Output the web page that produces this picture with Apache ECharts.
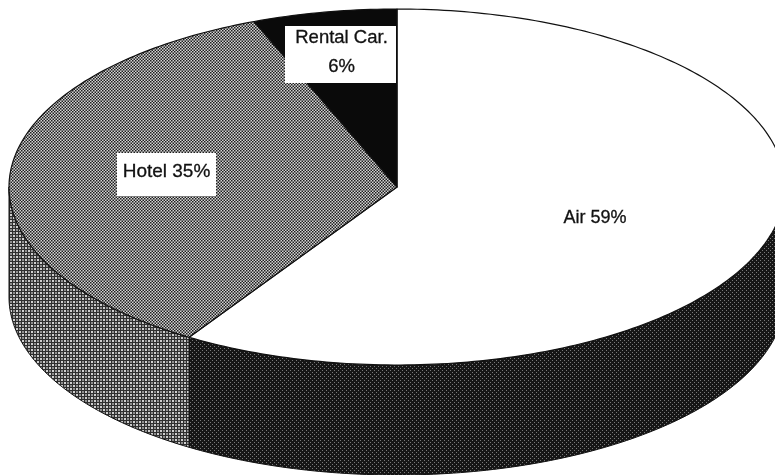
<!DOCTYPE html>
<html>
<head>
<meta charset="utf-8">
<style>html,body{margin:0;padding:0;background:#fff}#c{width:775px;height:475px}</style>
<script src="https://cdn.jsdelivr.net/npm/echarts@6/dist/echarts.min.js"></script>
</head>
<body>
<div id="c"></div>
<script>
const categories = ['Air', 'Hotel', 'Rental Car.'];
const shares = [59, 35, 6];
const labelLines = [['Air 59%'], ['Hotel 35%'], ['Rental Car.', '6%']];

// layout and style, kept apart from the data
const CX = 397, CY = 187, RX = 388, RY = 178, DEPTH = 110;
const labelBoxes = [
  {x: 555, y: 200, w: 80, h: 36, lineY: [18], fill: null, size: 18},
  {x: 117, y: 153, w: 99, h: 43, lineY: [19], fill: '#fff', size: 19},
  {x: 285, y: 26, w: 111, h: 57, lineY: [12, 41], fill: '#fff', size: 18.5}
];

function tile(size, paint) {
  const c = document.createElement('canvas');
  c.width = c.height = size;
  paint(c.getContext('2d'));
  return {image: c, repeat: 'repeat'};
}
const hotelTop = tile(6, g => {
  g.fillStyle = '#d4d4d4'; g.fillRect(0, 0, 6, 6);
  g.fillStyle = '#1e1e1e';
  for (let r = 0; r < 4; r++) for (let q = 0; q < 4; q++)
    if ((r + q) % 2 === 0) g.fillRect(q * 1.5, r * 1.5, 1.5, 1.5);
});
const hotelSide = tile(6, g => {
  g.fillStyle = '#2e2e2e'; g.fillRect(0, 0, 6, 6);
  g.fillStyle = '#d0d0d0';
  g.fillRect(1, 1, 2, 2); g.fillRect(4, 4, 2, 2);
  g.fillStyle = '#8e8e8e';
  g.fillRect(4, 1, 2, 2); g.fillRect(1, 4, 2, 2);
});
const airSide = tile(4, g => {
  g.fillStyle = '#161616'; g.fillRect(0, 0, 4, 4);
  g.fillStyle = '#7a7a7a';
  g.fillRect(0, 0, 1, 1); g.fillRect(2, 2, 1, 1);
});
const topFills = ['#ffffff', hotelTop, '#0a0a0a'];
const sideFills = [airSide, hotelSide, '#0a0a0a'];

const total = shares.reduce((a, b) => a + b, 0);
function sweep(i) {
  let before = 0;
  for (let k = 0; k < i; k++) before += shares[k];
  return [before / total * 360, (before + shares[i]) / total * 360];
}
function rimPoint(deg, dy) {
  const t = deg * Math.PI / 180;
  return [CX + RX * Math.sin(t), CY - RY * Math.cos(t) + dy];
}
function arc(a, b, dy) {
  const pts = [], n = Math.max(2, Math.ceil(Math.abs(b - a)));
  for (let k = 0; k <= n; k++) pts.push(rimPoint(a + (b - a) * k / n, dy));
  return pts;
}
const seriesData = shares.map((v, i) => ({name: categories[i], value: [v, i]}));

const option = {
  backgroundColor: '#ffffff',
  animation: false,
  series: [
    {
      type: 'custom', coordinateSystem: 'none', z: 1, silent: true,
      data: seriesData,
      renderItem(params, api) {
        const i = api.value(1);
        const [a0, a1] = sweep(i);
        const a = Math.max(a0, 90), b = Math.min(a1, 270);
        if (b <= a) return null;
        const pts = arc(a, b, 0).concat(arc(b, a, DEPTH));
        return {type: 'polygon', shape: {points: pts},
          style: {fill: sideFills[i], stroke: '#111', lineWidth: 1}};
      }
    },
    {
      type: 'custom', coordinateSystem: 'none', z: 2, silent: true,
      data: seriesData,
      renderItem(params, api) {
        const i = api.value(1);
        const [a0, a1] = sweep(i);
        const pts = [[CX, CY]].concat(arc(a0, a1, 0));
        return {type: 'polygon', shape: {points: pts},
          style: {fill: topFills[i], stroke: '#111', lineWidth: 1.2, lineJoin: 'round'}};
      }
    },
    {
      type: 'custom', coordinateSystem: 'none', z: 3, silent: true,
      data: seriesData,
      renderItem(params, api) {
        const i = api.value(1), box = labelBoxes[i], children = [];
        if (box.fill) children.push({type: 'rect',
          shape: {x: box.x, y: box.y, width: box.w, height: box.h},
          style: {fill: box.fill}});
        labelLines[i].forEach((s, k) => children.push({type: 'text',
          style: {x: box.x + box.w / 2 + (i === 2 ? 1 : 0), y: box.y + box.lineY[k], text: s,
            fill: '#111', stroke: '#111', lineWidth: 0.3,
            font: box.size + 'px "Liberation Sans", Arial, sans-serif',
            align: 'center', verticalAlign: 'middle'}}));
        return {type: 'group', children};
      }
    }
  ]
};
echarts.init(document.getElementById('c'), null, {renderer: 'canvas'}).setOption(option);
</script>
</body>
</html>
